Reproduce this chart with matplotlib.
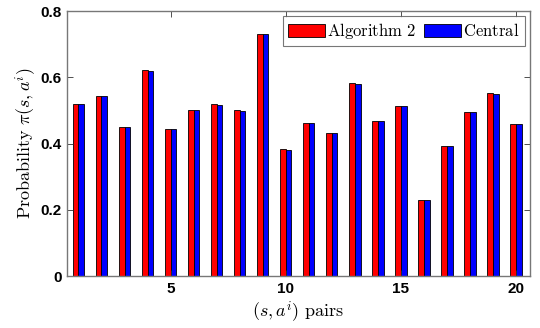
import matplotlib
matplotlib.use("Agg")
import matplotlib.pyplot as plt
import numpy as np

plt.rcParams['mathtext.fontset'] = 'cm'

pairs = np.arange(1, 21)
alg2 = [0.520, 0.543, 0.450, 0.621, 0.445, 0.503, 0.521, 0.501, 0.730, 0.383,
        0.462, 0.432, 0.582, 0.469, 0.515, 0.229, 0.392, 0.497, 0.552, 0.459]
central = [0.520, 0.543, 0.449, 0.620, 0.443, 0.503, 0.518, 0.498, 0.730, 0.382,
           0.462, 0.432, 0.580, 0.469, 0.515, 0.229, 0.392, 0.497, 0.550, 0.459]
yticks = [0, 0.2, 0.4, 0.6, 0.8]
yticklabels = ['0', '0.2', '0.4', '0.6', '0.8']
xticks = [5, 10, 15, 20]

fig = plt.figure(figsize=(5.4, 3.28), dpi=100)
ax = fig.add_axes([0.124, 0.158, 0.857, 0.808])

w = 0.25
ax.bar(pairs - w / 2, alg2, width=w, color='#ff0000', edgecolor='black', linewidth=0.6, label=r'$\mathrm{Algorithm\ 2}$')
ax.bar(pairs + w / 2, central, width=w, color='#0000ff', edgecolor='black', linewidth=0.6, label=r'$\mathrm{Central}$')

ax.set_xlim(0.5, 20.6)
ax.set_ylim(0, 0.8)
ax.set_yticks(yticks)
ax.set_yticklabels(yticklabels)
ax.set_xticks(xticks)
ax.set_xticklabels([str(t) for t in xticks])

for lab in ax.get_xticklabels() + ax.get_yticklabels():
    lab.set_fontfamily('Liberation Sans')
    lab.set_fontweight('bold')
    lab.set_fontsize(11)

ax.tick_params(direction='in', top=True, right=True, length=4, width=0.6, color='#333333', pad=4)
for s in ax.spines.values():
    s.set_color('#777777')
    s.set_linewidth(1.0)

ax.set_xlabel(r'$(s, a^i)\ \mathrm{pairs}$', fontsize=13, labelpad=3)
ax.set_ylabel(r'$\mathrm{Probability}\ \pi(s, a^i)$', fontsize=13, labelpad=0.5)

leg = ax.legend(loc='upper right', ncol=2, fontsize=12, frameon=True, fancybox=False,
                edgecolor='#555555', borderpad=0.3, handlelength=2.2, handleheight=0.8,
                handletextpad=0.15, columnspacing=0.5, borderaxespad=0.3)
leg.get_frame().set_linewidth(0.8)

fig.savefig('out.png', dpi=100)
